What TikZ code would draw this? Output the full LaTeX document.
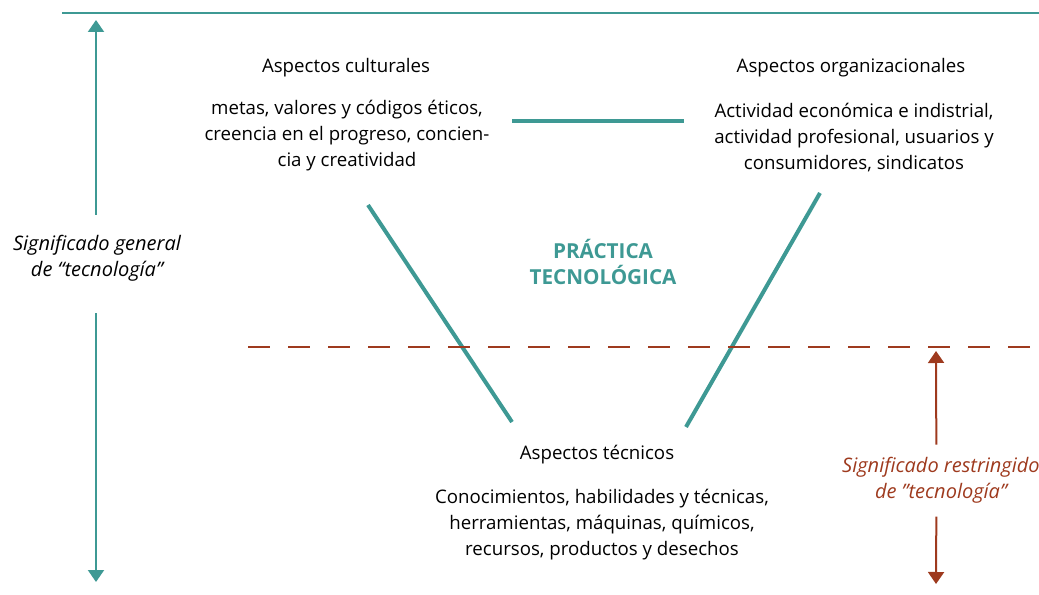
\documentclass[tikz,border=0pt]{standalone}
\usepackage{fontspec}
\setmainfont{Open Sans}
\usetikzlibrary{arrows.meta}
\usetikzlibrary{calc,positioning}

\definecolor{verde}{HTML}{3E9994}
\definecolor{rojo}{HTML}{9E3A1E}

\begin{document}
\begin{tikzpicture}[x=0.75pt, y=-0.75pt,
    >={Triangle[width=12pt,length=9pt]},
    txt/.style={align=center, font=\fontsize{14}{19.5}\selectfont, inner sep=0pt},
    lado/.style={verde, line width=3pt},
    etiq/.style={align=center, font=\fontsize{15}{19.5}\selectfont\itshape, inner sep=0pt}]

    \useasboundingbox (0,0) rectangle (1039,595);

    % linea superior
    \draw[verde, line width=1.5pt] (62,13) -- (1039,13);

    % aspectos
    \node[txt] (cult) at (346,68) {Aspectos culturales};
    \node[txt] (cultb) at (347,136) {metas, valores y códigos éticos,\\creencia en el progreso, concien-\\cia y creatividad};
    \node[txt] (org) at (851,68) {Aspectos organizacionales};
    \node[txt] (orgb) at (854,138) {Actividad económica e indistrial,\\actividad profesional, usuarios y\\consumidores, sindicatos};
    \node[txt] (tec) at (597,455) {Aspectos técnicos};
    \node[txt] (tecb) at (602,525) {Conocimientos, habilidades y técnicas,\\herramientas, máquinas, químicos,\\recursos, productos y desechos};

    \node[align=center, verde, font=\fontsize{15.5}{19}\selectfont\bfseries, inner sep=0pt] (prac) at (603,262) {PRÁCTICA\\TECNOLÓGICA};

    % triangulo
    \coordinate (h1) at (512,121);
    \coordinate (h2) at (684,121);
    \coordinate (l1) at (368,205);
    \coordinate (l2) at (512,422);
    \coordinate (r1) at (820,193);
    \coordinate (r2) at (686,427);
    \draw[lado] (h1) -- (h2);
    \draw[lado] (l1) -- (l2);
    \draw[lado] (r1) -- (r2);

    % limite
    \coordinate (d1) at (248,347);
    \coordinate (d2) at (1039,347);
    \draw[rojo, line width=1.6pt, dash pattern=on 16.5pt off 13.5pt] (d1) -- (d2);

    % significado general
    \node[etiq] (gen) at (97,258) {Significado general\\de “tecnología”};
    \coordinate (gtop) at (96,20);
    \coordinate (gbot) at (96,582);
    \draw[->, verde, line width=1.5pt] ([xshift=-0.75pt, yshift=15pt]gen.north) -- (gtop);
    \draw[->, verde, line width=1.5pt] ([xshift=-0.75pt, yshift=-24pt]gen.south) -- (gbot);

    % significado restringido
    \node[etiq, rojo] (res) at (941,480) {Significado restringido\\de \symbol{34}tecnología\symbol{34}};
    \coordinate (rtop) at (936,351);
    \coordinate (rbot) at (936,584);
    \draw[->, rojo, line width=1.5pt] ([xshift=-3.5pt, yshift=9pt]res.north) -- (rtop);
    \draw[->, rojo, line width=1.5pt] ([xshift=-3.5pt, yshift=-10pt]res.south) -- (rbot);

\end{tikzpicture}
\end{document}
